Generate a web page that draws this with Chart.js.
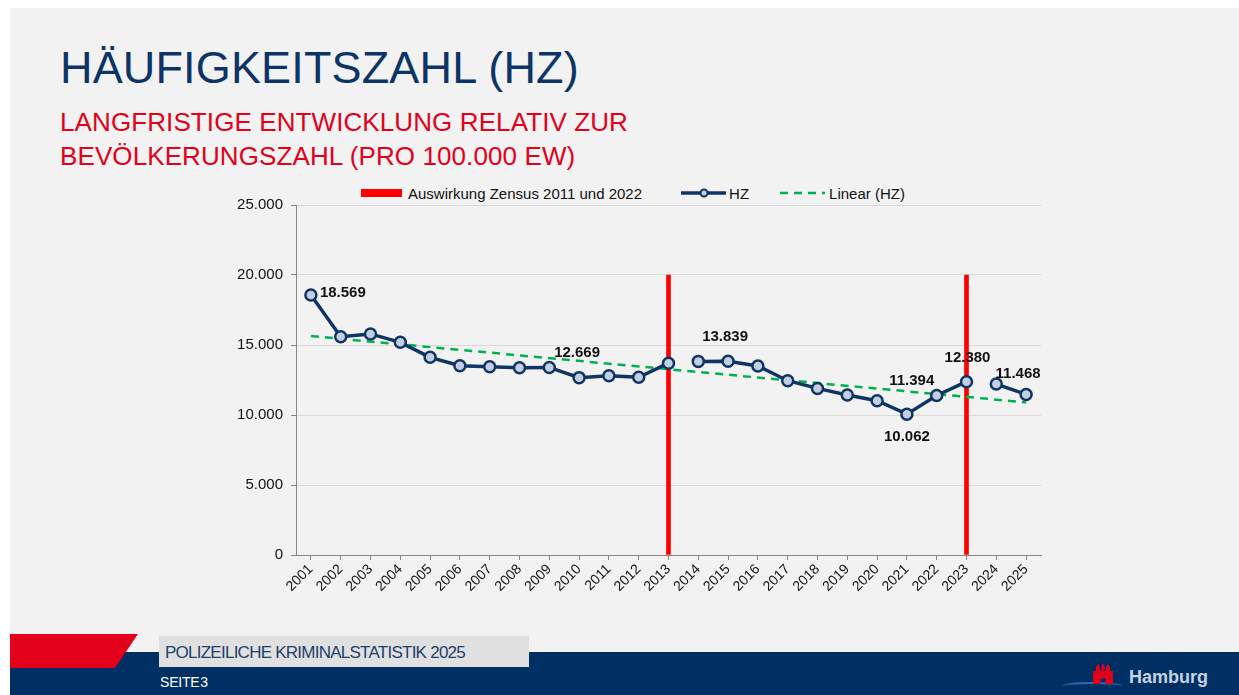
<!DOCTYPE html>
<html lang="de">
<head>
<meta charset="utf-8">
<script src="https://cdn.jsdelivr.net/npm/chart.js@4.4.1/dist/chart.umd.min.js"></script>
<style>
  html,body{margin:0;padding:0;width:1239px;height:695px;overflow:hidden;background:#ffffff;font-family:"Liberation Sans",Arial,sans-serif;}
  #slide{position:absolute;left:10px;top:8px;width:1229px;height:687px;background:#f2f2f2;overflow:hidden;}
  #title{position:absolute;left:50px;top:37px;font-size:45px;color:#0d3466;white-space:nowrap;line-height:1;letter-spacing:0.15px;}
  #subtitle{position:absolute;left:50px;top:97px;font-size:26px;color:#e2001a;line-height:34px;white-space:nowrap;letter-spacing:0.1px;}
  #chartBox{position:absolute;left:220px;top:187px;width:819px;height:430px;}
  #legend{position:absolute;top:176px;left:351px;height:18px;display:flex;align-items:center;font-size:15px;color:#111;white-space:nowrap;}
  .li{display:flex;align-items:center;}
  .sw{display:inline-block;margin-right:4px;}
  #band{position:absolute;left:0;top:644px;width:1229px;height:43px;background:#003063;}
  #redTab{position:absolute;left:0;top:626px;width:128px;height:34px;background:#e2001a;clip-path:polygon(0 0,100% 0,82% 100%,0 100%);border-bottom-right-radius:6px;}
  #greyBox{position:absolute;left:149px;top:628px;width:370px;height:31px;background:#e0e0e0;}
  #pks{position:absolute;left:155px;top:635.5px;font-size:17px;line-height:1;color:#1f3f6e;letter-spacing:-0.75px;white-space:nowrap;}
  #seite{position:absolute;left:150px;top:667px;font-size:14px;line-height:1;color:#ffffff;letter-spacing:-0.2px;word-spacing:-3px;white-space:nowrap;}
  #hh{position:absolute;left:1119px;top:659px;font-size:18px;font-weight:bold;color:#c5d2e4;}
  #castle{position:absolute;left:1083px;top:656px;width:20px;height:20px;background:#e2001a;clip-path:polygon(0 100%,0 35%,15% 35%,15% 15%,25% 0,35% 15%,35% 35%,42% 35%,42% 10%,50% 0,58% 10%,58% 35%,65% 35%,65% 15%,75% 0,85% 15%,85% 35%,100% 35%,100% 100%,62% 100%,62% 72%,38% 72%,38% 100%);}
  #wave{position:absolute;left:1052px;top:674px;width:60px;height:6px;border-top:2px solid #2b6cb0;border-radius:50%;}
</style>
</head>
<body>
<div id="slide">
  <div id="title">HÄUFIGKEITSZAHL (HZ)</div>
  <div id="subtitle">LANGFRISTIGE ENTWICKLUNG RELATIV ZUR<br>BEVÖLKERUNGSZAHL (PRO 100.000 EW)</div>
  <div id="legend"></div>
  <div id="chartBox"><canvas id="c"></canvas></div>
  <div id="band"></div>
  <div id="redTab"></div>
  <div id="greyBox"></div>
  <div id="pks">POLIZEILICHE KRIMINALSTATISTIK 2025</div>
  <div id="seite">SEITE 3</div>
  <div id="wave"></div>
  <div id="castle"></div>
  <div id="hh">Hamburg</div>
</div>
<script>
// ---- data ----
const years = ["2001","2002","2003","2004","2005","2006","2007","2008","2009","2010","2011","2012","2013","2014","2015","2016","2017","2018","2019","2020","2021","2022","2023","2024","2025"];
const hzValues = [18569,15590,15790,15190,14120,13520,13450,13380,13400,12669,12810,12690,13700,13830,13839,13500,12450,11900,11430,11020,10062,11394,12380,12210,11468];
const zensusValues = [null,null,null,null,null,null,null,null,null,null,null,null,20000,null,null,null,null,null,null,null,null,null,20000,null,null];
const trendValues = [15640,null,null,null,null,null,null,null,null,null,null,null,null,null,null,null,null,null,null,null,null,null,null,null,10900];
const seriesNames = ["Auswirkung Zensus 2011 und 2022","HZ","Linear (HZ)"];
const yTickValues = [0,5000,10000,15000,20000,25000];
const labelledYears = ["2001","2010","2015","2021","2022","2023","2025"];
const gapAfterYears = ["2013","2023"];

// ---- styling / placement (not data) ----
const navy = "#0f3565";
const plotTarget = {left: 296, top: 205, right: 1041, bottom: 555}; // page pixels of the plot area
const labelPlacement = {
  "2001": {dx: 9, dy: -2, align: "left"},
  "2010": {dx: -2, dy: -25, align: "center"},
  "2015": {dx: -3, dy: -24, align: "center"},
  "2021": {dx: 0, dy: 23, align: "center"},
  "2022": {dx: -25, dy: -15, align: "center"},
  "2023": {dx: 1, dy: -24, align: "center"},
  "2025": {dx: -8, dy: -21, align: "center"}
};

function fmt(v){ return Math.round(v).toString().replace(/\B(?=(\d{3})+(?!\d))/g, "."); }

// legend (HTML)
const legend = document.getElementById("legend");
legend.innerHTML =
  '<div class="li"><span class="sw" style="width:41px;height:8px;background:#ff0000;margin-right:6px"></span><span>'+seriesNames[0]+'</span></div>' +
  '<div class="li" style="margin-left:38px"><svg class="sw" width="47" height="12" style="margin-right:2px"><line x1="1" y1="6" x2="46" y2="6" stroke="'+navy+'" stroke-width="3.5"/><circle cx="24" cy="6" r="3.5" fill="#c5d0e0" stroke="'+navy+'" stroke-width="2"/></svg><span>'+seriesNames[1]+'</span></div>' +
  '<div class="li" style="margin-left:30px"><svg class="sw" width="47" height="12" style="margin-right:3px"><line x1="1" y1="6" x2="46" y2="6" stroke="#00b050" stroke-width="2.5" stroke-dasharray="8,6"/></svg><span>'+seriesNames[2]+'</span></div>';

const valueLabels = {
  id: "valueLabels",
  afterDatasetsDraw(chart){
    const meta = chart.getDatasetMeta(1);
    const ctx = chart.ctx;
    ctx.save();
    ctx.font = 'bold 15px "Liberation Sans", Arial, sans-serif';
    ctx.fillStyle = "#111";
    ctx.textBaseline = "middle";
    labelledYears.forEach(y => {
      const i = years.indexOf(y);
      const el = meta.data[i];
      const p = labelPlacement[y];
      ctx.textAlign = p.align;
      ctx.fillText(fmt(hzValues[i]), el.x + p.dx, el.y + p.dy);
    });
    ctx.restore();
  }
};

const gapIdx = gapAfterYears.map(y => years.indexOf(y));

const chart = new Chart(document.getElementById("c"), {
  data: {
    labels: years,
    datasets: [
      {
        type: "bar",
        label: seriesNames[0],
        data: zensusValues,
        backgroundColor: "#ff0000",
        barThickness: 4,
        order: 3
      },
      {
        type: "line",
        label: seriesNames[1],
        data: hzValues,
        borderColor: navy,
        borderWidth: 3.5,
        pointRadius: 5.5,
        pointBorderWidth: 2.5,
        pointBackgroundColor: "#c3cfe0",
        pointBorderColor: navy,
        tension: 0,
        segment: {
          borderColor: c => gapIdx.includes(c.p0DataIndex) ? "rgba(0,0,0,0)" : undefined
        },
        order: 1
      },
      {
        type: "line",
        label: seriesNames[2],
        data: trendValues,
        borderColor: "#00b050",
        borderWidth: 2.5,
        borderDash: [8, 6],
        pointRadius: 0,
        spanGaps: true,
        order: 2
      }
    ]
  },
  options: {
    responsive: true,
    maintainAspectRatio: false,
    animation: false,
    layout: { padding: { top: 10, right: 5, left: 0, bottom: 0 } },
    plugins: { legend: { display: false }, tooltip: { enabled: false } },
    scales: {
      x: {
        offset: true,
        grid: { display: true, drawOnChartArea: false, offset: false, tickLength: 5, color: "#868686" },
        border: { color: "#868686", width: 1 },
        ticks: { minRotation: 45, maxRotation: 45, autoSkip: false, color: "#111", padding: 1,
                 font: { family: '"Liberation Sans", Arial, sans-serif', size: 14 } },
        afterFit(s){ s.height = 70; }
      },
      y: {
        min: 0, max: 25000,
        afterBuildTicks(s){ s.ticks = yTickValues.map(v => ({value: v})); },
        grid: { color: "#d9d9d9", tickLength: 5, tickColor: "#868686" },
        border: { color: "#868686", width: 1 },
        ticks: { color: "#111", padding: 8, callback: v => fmt(v),
                 font: { family: '"Liberation Sans", Arial, sans-serif', size: 15 } },
        afterFit(s){ s.width = 66; }
      }
    }
  },
  plugins: [valueLabels]
});

// fit the container so the plot area sits where the reference has it
(function fitPlot(){
  const box = document.getElementById("chartBox");
  for (let k = 0; k < 3; k++) {
    const r = box.getBoundingClientRect();
    const a = chart.chartArea;
    const dl = plotTarget.left - (r.left + a.left);
    const dt = plotTarget.top - (r.top + a.top);
    const dr = plotTarget.right - (r.left + a.right);
    const db = plotTarget.bottom - (r.top + a.bottom);
    if (Math.abs(dl) < 0.5 && Math.abs(dt) < 0.5 && Math.abs(dr) < 0.5 && Math.abs(db) < 0.5) break;
    box.style.left = (box.offsetLeft + dl) + "px";
    box.style.top = (box.offsetTop + dt) + "px";
    box.style.width = (box.offsetWidth + dr - dl) + "px";
    box.style.height = (box.offsetHeight + db - dt) + "px";
    chart.resize();
  }
})();
</script>
</body>
</html>
